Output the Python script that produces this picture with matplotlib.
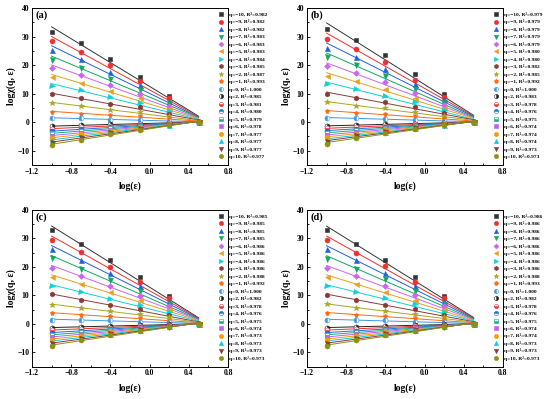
import numpy as np
import matplotlib
matplotlib.use("Agg")
import matplotlib.pyplot as plt
from matplotlib.lines import Line2D
from matplotlib.ticker import MultipleLocator

plt.rcParams['font.family'] = ['Liberation Serif', 'DejaVu Serif']
plt.rcParams['font.weight'] = 'bold'

log_eps = [-1.0, -0.7, -0.4, -0.1, 0.2, 0.5]
q_values = [-10, -9, -8, -7, -6, -5, -4, -3, -2, -1, 0, 2, 3, 4, 5, 6, 7, 8, 9, 10]

vals_a = [
    [31.6, 27.6, 22.1, 15.9, 9.3, 0.0],
    [28.4, 24.7, 19.9, 14.4, 8.4, 0.0],
    [25.4, 22.0, 17.7, 12.9, 7.5, 0.0],
    [21.9, 19.1, 15.2, 11.4, 6.6, 0.0],
    [19.1, 16.5, 13.0, 9.9, 5.7, 0.0],
    [15.9, 13.8, 10.8, 8.4, 4.8, 0.0],
    [12.8, 11.2, 8.7, 6.8, 3.9, 0.0],
    [9.7, 8.3, 6.5, 5.2, 3.0, 0.0],
    [6.7, 5.6, 4.4, 3.6, 2.1, 0.0],
    [3.7, 3.0, 2.4, 2.1, 1.3, 0.0],
    [1.5, 1.3, 0.9, 0.8, 0.5, 0.0],
    [-1.4, -1.1, -0.8, -0.5, -0.2, 0.0],
    [-2.3, -1.8, -1.3, -0.8, -0.4, 0.0],
    [-3.2, -2.5, -1.8, -1.1, -0.5, 0.0],
    [-4.0, -3.1, -2.2, -1.4, -0.6, 0.0],
    [-4.8, -3.7, -2.7, -1.6, -0.7, 0.0],
    [-5.6, -4.3, -3.1, -1.9, -0.8, 0.0],
    [-6.4, -4.9, -3.5, -2.1, -0.9, 0.0],
    [-7.2, -5.5, -3.9, -2.4, -1.0, 0.0],
    [-8.0, -6.1, -4.3, -2.6, -1.1, 0.0],
]
vals_b = [
    [32.6, 28.7, 23.6, 16.8, 9.8, 0.0],
    [29.3, 25.8, 21.1, 14.9, 8.9, 0.0],
    [26.1, 22.9, 18.8, 13.3, 8.0, 0.0],
    [22.9, 19.9, 16.3, 11.7, 7.0, 0.0],
    [19.6, 17.1, 14.0, 10.1, 6.1, 0.0],
    [16.3, 14.3, 11.7, 8.5, 5.1, 0.0],
    [13.4, 11.5, 9.2, 6.9, 4.1, 0.0],
    [10.0, 8.6, 7.0, 5.3, 3.2, 0.0],
    [6.9, 5.8, 4.8, 3.7, 2.3, 0.0],
    [4.0, 3.1, 2.8, 2.1, 1.4, 0.0],
    [1.5, 1.4, 1.1, 0.8, 0.5, 0.0],
    [-1.3, -1.0, -0.8, -0.5, -0.2, 0.0],
    [-2.2, -1.7, -1.2, -0.8, -0.4, 0.0],
    [-3.0, -2.3, -1.7, -1.1, -0.5, 0.0],
    [-3.8, -2.9, -2.1, -1.3, -0.6, 0.0],
    [-4.6, -3.4, -2.5, -1.6, -0.7, 0.0],
    [-5.3, -4.0, -2.9, -1.8, -0.8, 0.0],
    [-6.1, -4.5, -3.3, -2.0, -0.9, 0.0],
    [-6.8, -5.0, -3.5, -2.2, -1.0, 0.0],
    [-7.6, -5.5, -3.7, -2.4, -1.1, 0.0],
]
vals_c = [
    [32.9, 28.0, 22.3, 16.3, 9.8, 0.0],
    [29.5, 25.1, 20.1, 14.7, 8.9, 0.0],
    [26.3, 22.4, 17.9, 13.1, 8.0, 0.0],
    [23.0, 19.4, 15.5, 11.5, 7.0, 0.0],
    [19.7, 16.6, 13.4, 9.9, 6.1, 0.0],
    [16.4, 14.1, 11.2, 8.3, 5.1, 0.0],
    [13.1, 11.3, 8.8, 6.7, 4.1, 0.0],
    [10.3, 8.4, 6.5, 5.1, 3.2, 0.0],
    [6.7, 5.6, 4.4, 3.5, 2.3, 0.0],
    [3.7, 3.2, 2.7, 2.0, 1.4, 0.0],
    [1.5, 1.3, 1.3, 0.8, 0.5, 0.0],
    [-1.3, -1.0, -0.8, -0.5, -0.2, 0.0],
    [-2.2, -1.7, -1.3, -0.8, -0.4, 0.0],
    [-3.1, -2.4, -1.8, -1.1, -0.5, 0.0],
    [-3.9, -3.0, -2.2, -1.4, -0.6, 0.0],
    [-4.7, -3.6, -2.6, -1.6, -0.7, 0.0],
    [-5.5, -4.1, -3.0, -1.9, -0.8, 0.0],
    [-6.2, -4.7, -3.4, -2.1, -0.9, 0.0],
    [-7.0, -5.3, -3.7, -2.3, -1.0, 0.0],
    [-7.8, -5.8, -4.0, -2.5, -1.1, 0.0],
]
vals_d = [
    [32.8, 27.9, 22.4, 16.4, 9.9, 0.0],
    [29.5, 25.0, 20.2, 14.8, 9.0, 0.0],
    [26.2, 22.3, 18.0, 13.2, 8.1, 0.0],
    [22.9, 19.4, 15.6, 11.6, 7.1, 0.0],
    [19.6, 16.6, 13.4, 10.0, 6.2, 0.0],
    [16.4, 14.0, 11.2, 8.4, 5.2, 0.0],
    [13.1, 11.2, 8.9, 6.8, 4.2, 0.0],
    [10.1, 8.4, 6.6, 5.2, 3.2, 0.0],
    [6.8, 5.6, 4.5, 3.6, 2.3, 0.0],
    [3.8, 3.2, 2.7, 2.0, 1.4, 0.0],
    [1.5, 1.3, 1.2, 0.8, 0.5, 0.0],
    [-1.3, -1.0, -0.8, -0.5, -0.2, 0.0],
    [-2.2, -1.7, -1.3, -0.8, -0.4, 0.0],
    [-3.1, -2.4, -1.8, -1.1, -0.5, 0.0],
    [-3.9, -3.0, -2.2, -1.4, -0.6, 0.0],
    [-4.7, -3.6, -2.6, -1.6, -0.7, 0.0],
    [-5.5, -4.1, -3.0, -1.9, -0.8, 0.0],
    [-6.2, -4.7, -3.4, -2.1, -0.9, 0.0],
    [-7.0, -5.3, -3.7, -2.3, -1.0, 0.0],
    [-7.8, -5.8, -4.0, -2.5, -1.1, 0.0],
]

r2_a = ["0.982", "0.982", "0.982", "0.983", "0.983", "0.983", "0.984", "0.985", "0.987", "0.993",
        "1.000", "0.985", "0.981", "0.980", "0.979", "0.978", "0.977", "0.977", "0.977", "0.977"]
r2_b = ["0.979", "0.979", "0.979", "0.979", "0.979", "0.980", "0.980", "0.982", "0.985", "0.992",
        "1.000", "0.983", "0.978", "0.976", "0.975", "0.974", "0.974", "0.974", "0.973", "0.973"]
r2_c = ["0.985", "0.985", "0.985", "0.985", "0.986", "0.986", "0.986", "0.986", "0.988", "0.992",
        "1.000", "0.982", "0.978", "0.976", "0.975", "0.974", "0.973", "0.973", "0.973", "0.973"]
r2_d = ["0.986", "0.986", "0.986", "0.986", "0.986", "0.986", "0.986", "0.986", "0.988", "0.993",
        "1.000", "0.982", "0.978", "0.976", "0.975", "0.974", "0.974", "0.973", "0.973", "0.973"]

panel_tags = ["(a)", "(b)", "(c)", "(d)"]

colors = ["#333333", "#f03030", "#1f5fe0", "#10a860", "#cc66f0", "#e8a020", "#10d0d8",
          "#8b3a3a", "#a8a820", "#ff6a10", "#3a98e8", "#222222", "#f03030", "#1f6fe0",
          "#10b080", "#c060f0", "#f0a000", "#10c8d8", "#8b3a3a", "#909010"]
markers = ["s", "o", "^", "v", "D", "<", ">", "h", "*", "p",
           "o", "o", "o", "o", "s", "s", "o", "^", "v", "o"]
fills = ["full"] * 10 + ["left", "right", "bottom", "top", "bottom", "full", "full", "full", "full", "full"]
msizes = [3.3, 3.6, 3.6, 3.6, 3.0, 3.6, 3.6, 3.6, 4.2, 3.6,
          3.6, 3.6, 3.6, 3.6, 3.3, 3.3, 3.6, 3.6, 3.6, 3.6]

fig = plt.figure(figsize=(5.5, 3.99), dpi=100)
W, H = 550.0, 399.0
axes_px = [(32, 8), (307, 8), (32, 209.7), (307, 209.7)]
aw, ah = 196.0, 157.0

all_vals = [vals_a, vals_b, vals_c, vals_d]
all_r2 = [r2_a, r2_b, r2_c, r2_d]

xs = np.array(log_eps)
for k in range(4):
    x0, y0 = axes_px[k]
    ax = fig.add_axes([x0 / W, 1 - (y0 + ah) / H, aw / W, ah / H])
    handles = []
    labels = []
    for i, q in enumerate(q_values):
        ys = np.array(all_vals[k][i])
        slope, icpt = np.polyfit(xs, ys, 1)
        xf = np.array([xs[0], xs[-1]])
        ax.plot(xf, slope * xf + icpt, color=colors[i], lw=0.7, zorder=2)
        ax.plot(xs, ys, linestyle="none", marker=markers[i], color=colors[i],
                markersize=msizes[i], fillstyle=fills[i], markerfacecoloralt="white",
                markeredgewidth=0.4, zorder=3)
        handles.append(Line2D([], [], linestyle="none", marker=markers[i], color=colors[i],
                              markersize=msizes[i] * 0.85, fillstyle=fills[i],
                              markerfacecoloralt="white", markeredgewidth=0.4))
        labels.append("q=%s, R\u00b2=%s" % (str(q).replace("-", "\u2212"), all_r2[k][i]))
    ax.set_xlim(-1.2, 0.8)
    ax.set_ylim(-15, 40)
    ax.xaxis.set_minor_locator(MultipleLocator(0.2))
    ax.yaxis.set_minor_locator(MultipleLocator(5))
    ax.set_xticks([-1.2, -0.8, -0.4, 0.0, 0.4, 0.8])
    ax.set_xticklabels(["\u22121.2", "\u22120.8", "\u22120.4", "0.0", "0.4", "0.8"])
    ax.set_yticks([-10, 0, 10, 20, 30, 40])
    ax.set_yticklabels(["\u221210", "0", "10", "20", "30", "40"])
    ax.tick_params(which="both", direction="in", top=False, right=False,
                   labelsize=5.5, width=0.6, pad=2)
    ax.tick_params(which="major", length=2.5)
    ax.tick_params(which="minor", length=1.5)
    for sp in ax.spines.values():
        sp.set_linewidth(0.7)
    for t in ax.get_xticklabels() + ax.get_yticklabels():
        t.set_fontweight("bold")
    ax.set_xlabel("log(\u03b5)", fontsize=7, fontweight="bold", labelpad=4)
    ax.set_ylabel("log\u03c7(q, \u03b5)", fontsize=7, fontweight="bold", labelpad=1)
    ax.text(0.02, 0.955, panel_tags[k], transform=ax.transAxes, fontsize=7.5,
            fontweight="bold", va="center", ha="left")
    leg = ax.legend(handles, labels, loc="upper left", bbox_to_anchor=(0.942, 0.975),
                    frameon=False, fontsize=3.9, labelspacing=0.46, handlelength=1.5,
                    handletextpad=0.87, borderpad=0, borderaxespad=0)
    for t in leg.get_texts():
        t.set_fontweight("bold")

fig.savefig("out.png", dpi=100)
